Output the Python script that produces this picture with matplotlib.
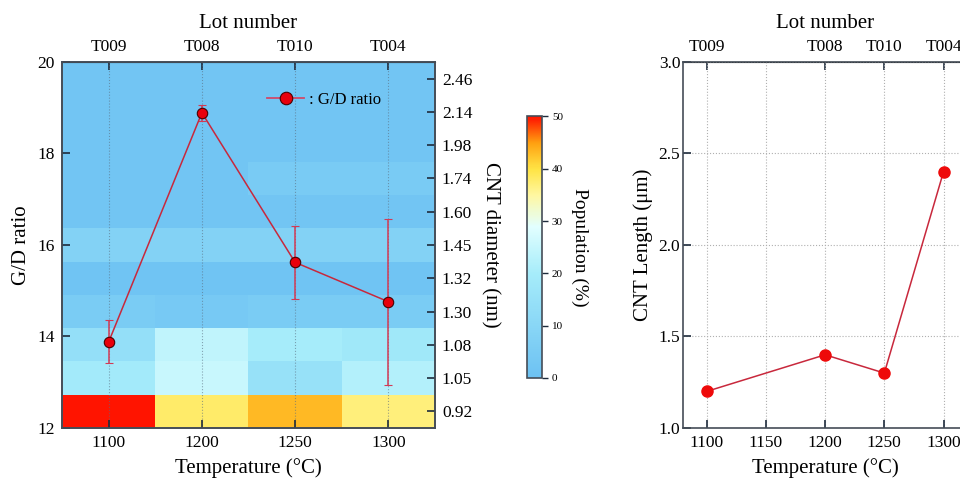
import numpy as np
import matplotlib
matplotlib.use("Agg")
import matplotlib.pyplot as plt
from matplotlib.colors import LinearSegmentedColormap
from matplotlib.lines import Line2D

plt.rcParams["font.family"] = ["Liberation Serif", "DejaVu Serif"]

# --- data -------------------------------------------------------------
temps = ["1100", "1200", "1250", "1300"]
lots = ["T009", "T008", "T010", "T004"]
diam_labels = ["0.92", "1.05", "1.08", "1.30", "1.32", "1.45",
               "1.60", "1.74", "1.98", "2.14", "2.46"]
# population (%) per diameter bin (rows, bottom->top) and temperature (cols)
population = np.array([
    [50, 38, 43, 37],   # 0.92
    [19, 25, 15, 22],   # 1.05
    [14, 24, 20, 18],   # 1.08
    [5, 4, 5, 5],       # 1.30
    [1.5, 1.5, 1.5, 1.5],  # 1.32
    [8, 8, 8, 8],       # 1.45
    [2, 2, 2, 2],       # 1.60
    [2, 2, 4.5, 4.5],   # 1.74
    [2, 2, 2, 2],       # 1.98
    [2, 2, 2, 2],       # 2.14
    [2, 2, 2, 2],       # 2.46
])
gd_ratio = [13.88, 18.89, 15.62, 14.76]
gd_err = [0.47, 0.17, 0.80, 1.81]

len_temp = [1100, 1200, 1250, 1300]
cnt_length = [1.2, 1.4, 1.3, 2.4]

# --- style --------------------------------------------------------------
cmap = LinearSegmentedColormap.from_list("pop", [
    (0.00, "#6cc1f2"), (0.40, "#a6ecfa"), (0.58, "#e2ffff"),
    (0.70, "#fff7a0"), (0.80, "#ffe445"), (0.90, "#ffa010"), (1.00, "#ff1400")])
SPINE = "#454d57"
TICK = "#1e2b3c"
LINE = "#c8283c"
TS = 12.5   # tick labels
LS = 15     # axis labels

fig = plt.figure(figsize=(9.6, 4.79), dpi=100)

# ======================= left panel =====================================
ax = fig.add_axes([0.0646, 0.1065, 0.3885, 0.7641])
nx, ny = population.shape[1], population.shape[0]
xe = np.arange(nx + 1) - 0.5
ye = np.linspace(12, 20, ny + 1)
mesh = ax.pcolormesh(xe, ye, population, cmap=cmap, vmin=0, vmax=50, zorder=0)
ax.set_xlim(-0.5, nx - 0.5)
ax.set_ylim(12, 20)
ax.set_xticks(range(nx))
ax.set_xticklabels(temps)
ax.set_yticks([12, 14, 16, 18, 20])
ax.tick_params(direction="in", length=6, width=1.2, color=TICK, labelsize=TS, pad=5)
ax.grid(axis="x", color="#5a6e80", ls=":", lw=0.8, alpha=0.6)
ax.set_axisbelow(False)
for s in ax.spines.values():
    s.set_color(SPINE); s.set_linewidth(1.2)

ax.errorbar(range(nx), gd_ratio, yerr=gd_err, color=LINE, lw=1.1,
            ecolor="#d23a55", elinewidth=1.1, capsize=3, capthick=1.1,
            marker="o", ms=7.5, mfc="#e8000b", mec="#4a0000", mew=0.8, zorder=5)
handle = Line2D([], [], color="#d04a6a", lw=1.3, marker="o", ms=9,
                mfc="#e8000b", mec="#4a0000", mew=0.8)
ax.legend([handle], [": G/D ratio"], loc="upper left", bbox_to_anchor=(0.51, 0.96),
          frameon=False, fontsize=12, handlelength=2.2, handletextpad=0.3)
ax.set_ylabel("G/D ratio", fontsize=LS, labelpad=5)
ax.set_xlabel("Temperature (°C)", fontsize=LS, labelpad=5)

top = ax.secondary_xaxis("top")
top.set_xticks(range(nx))
top.set_xticklabels(lots)
top.tick_params(direction="in", length=6, width=1.2, color=TICK, labelsize=TS, pad=5)
top.set_xlabel("Lot number", fontsize=LS, labelpad=8)

axr = ax.twinx()
axr.set_ylim(0, ny)
axr.set_yticks(np.arange(ny) + 0.5)
axr.set_yticklabels(diam_labels)
axr.tick_params(direction="in", length=6, width=1.2, color=TICK, labelsize=TS, pad=5)
axr.set_ylabel("CNT diameter (nm)", fontsize=LS, rotation=-90, labelpad=20)
for s in axr.spines.values():
    s.set_color(SPINE); s.set_linewidth(1.2)

# colorbar
cax = fig.add_axes([0.549, 0.2109, 0.0151, 0.546])
cb = fig.colorbar(mesh, cax=cax, ticks=[0, 10, 20, 30, 40, 50])
cb.outline.set_edgecolor(SPINE)
cb.outline.set_linewidth(1.2)
cax.tick_params(labelsize=8, length=4, width=1, color=TICK)
cb.set_label("Population (%)", fontsize=14, rotation=-90, labelpad=18)

# ======================= right panel ====================================
ax2 = fig.add_axes([0.7115, 0.1065, 0.296, 0.7641])
ax2.plot(len_temp, cnt_length, color=LINE, lw=1.1, marker="o", ms=8,
         mfc="#ee0a0a", mec="#ee0a0a", zorder=5)
ax2.set_xlim(1080, 1320)
ax2.set_ylim(1.0, 3.0)
ax2.set_xticks([1100, 1150, 1200, 1250, 1300])
ax2.set_yticks([1.0, 1.5, 2.0, 2.5, 3.0])
ax2.grid(color="#b0b0b0", ls=":", lw=0.8)
ax2.tick_params(direction="in", length=6, width=1.2, color=TICK, labelsize=TS, pad=5)
ax2.tick_params(axis="y", pad=2)
for s in ax2.spines.values():
    s.set_color(SPINE); s.set_linewidth(1.2)
ax2.set_ylabel("CNT Length (μm)", fontsize=LS, labelpad=4)
ax2.set_xlabel("Temperature (°C)", fontsize=LS, labelpad=5)
top2 = ax2.secondary_xaxis("top")
top2.set_xticks(len_temp)
top2.set_xticklabels(lots)
top2.tick_params(direction="in", length=6, width=1.2, color=TICK, labelsize=TS, pad=5)
top2.set_xlabel("Lot number", fontsize=LS, labelpad=8)

fig.savefig("out.png", dpi=100)
